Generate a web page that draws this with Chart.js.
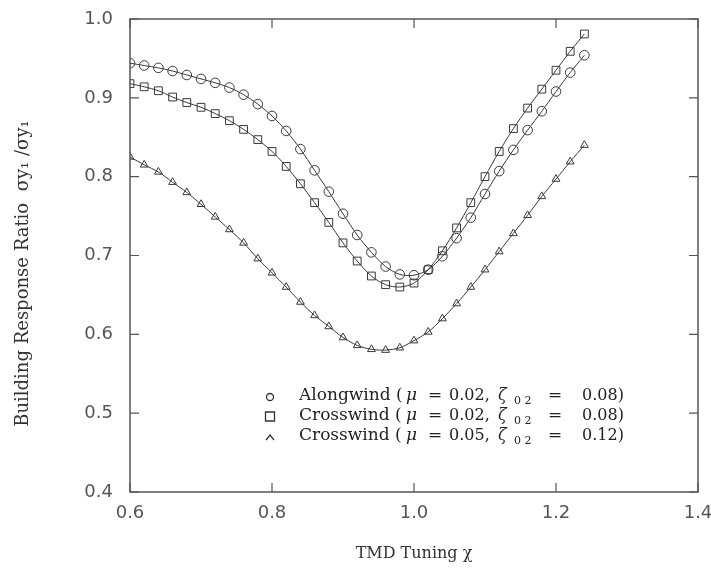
<!DOCTYPE html>
<html>
<head>
<meta charset="utf-8">
<script src="https://cdn.jsdelivr.net/npm/chart.js@4/dist/chart.umd.min.js"></script>
<style>
  html, body { margin: 0; padding: 0; background: #fff; }
  #wrap { width: 711px; height: 577px; }
</style>
</head>
<body>
<div id="wrap"><canvas id="tmdChart" width="711" height="577"></canvas></div>
<script>
/* =======================
   DATA
======================= */
const tuning = [0.60, 0.62, 0.64, 0.66, 0.68, 0.70, 0.72, 0.74, 0.76, 0.78, 0.80,
                0.82, 0.84, 0.86, 0.88, 0.90, 0.92, 0.94, 0.96, 0.98, 1.00, 1.02,
                1.04, 1.06, 1.08, 1.10, 1.12, 1.14, 1.16, 1.18, 1.20, 1.22, 1.24];

const alongwind002 = [0.944, 0.941, 0.938, 0.934, 0.929, 0.924, 0.919, 0.913, 0.904, 0.892, 0.877,
                      0.858, 0.835, 0.808, 0.781, 0.753, 0.726, 0.704, 0.686, 0.676, 0.675, 0.682,
                      0.699, 0.722, 0.748, 0.778, 0.807, 0.834, 0.859, 0.883, 0.908, 0.932, 0.954];

const crosswind002 = [0.918, 0.914, 0.909, 0.901, 0.894, 0.888, 0.880, 0.871, 0.860, 0.847, 0.832,
                      0.813, 0.791, 0.767, 0.742, 0.716, 0.693, 0.674, 0.663, 0.660, 0.665, 0.682,
                      0.706, 0.735, 0.767, 0.800, 0.832, 0.861, 0.887, 0.911, 0.935, 0.959, 0.981];

const crosswind005 = [0.825, 0.815, 0.806, 0.793, 0.780, 0.765, 0.749, 0.733, 0.716, 0.696, 0.678,
                      0.660, 0.641, 0.624, 0.610, 0.596, 0.586, 0.581, 0.580, 0.583, 0.592, 0.603,
                      0.620, 0.639, 0.660, 0.682, 0.705, 0.728, 0.751, 0.775, 0.797, 0.819, 0.840];

const xTicks = [0.6, 0.8, 1.0, 1.2, 1.4];
const yTicks = [0.4, 0.5, 0.6, 0.7, 0.8, 0.9, 1.0];

const seriesNames = ["Alongwind", "Crosswind", "Crosswind"];
const seriesMu = ["0.02,", "0.02,", "0.05,"];
const seriesZeta = ["0.08)", "0.08)", "0.12)"];

const INK = "#3a3a3a";
const SERIF = "'DejaVu Serif', 'Liberation Serif', serif";
const SANS = "'DejaVu Sans', sans-serif";

function toPoints(ys) {
    return tuning.map((x, i) => ({ x: x, y: ys[i] }));
}

/* =======================
   FRAME, INNER TICKS, LEGEND
======================= */
const framePlugin = {
    id: "frame",
    afterDraw(chart) {
        const ctx = chart.ctx;
        const a = chart.chartArea;
        const xs = chart.scales.x;
        const ys = chart.scales.y;
        const tl = 9;

        ctx.save();
        ctx.strokeStyle = "#555";
        ctx.lineWidth = 1.5;
        ctx.strokeRect(a.left, a.top, a.right - a.left, a.bottom - a.top);

        ctx.lineWidth = 1.2;
        ctx.beginPath();
        xTicks.forEach(v => {
            const px = xs.getPixelForValue(v);
            ctx.moveTo(px, a.bottom); ctx.lineTo(px, a.bottom - tl);
            ctx.moveTo(px, a.top); ctx.lineTo(px, a.top + tl);
        });
        yTicks.forEach(v => {
            const py = ys.getPixelForValue(v);
            ctx.moveTo(a.left, py); ctx.lineTo(a.left + tl, py);
            ctx.moveTo(a.right, py); ctx.lineTo(a.right - tl, py);
        });
        ctx.stroke();

        /* legend, pieces placed at fixed offsets like the typeset original */
        const markX = a.left + 140;
        const textX = a.left + 169;
        const rows = [a.top + 377, a.top + 397, a.top + 417];
        const styles = ["circle", "rect", "triangle"];

        ctx.fillStyle = "#222";
        ctx.strokeStyle = "#333";
        ctx.lineWidth = 1.3;
        ctx.textBaseline = "middle";
        ctx.textAlign = "left";

        rows.forEach((y, i) => {
            ctx.beginPath();
            if (styles[i] === "circle") {
                ctx.arc(markX, y + 1, 3.5, 0, Math.PI * 2);
            } else if (styles[i] === "rect") {
                ctx.rect(markX - 4.5, y - 4, 9, 9);
            } else {
                ctx.moveTo(markX - 4, y + 4);
                ctx.lineTo(markX, y - 1);
                ctx.lineTo(markX + 4, y + 4);
            }
            ctx.stroke();

            const put = (txt, dx, font, dy) => {
                ctx.font = font;
                ctx.fillText(txt, textX + dx, y + (dy || 0));
            };
            const f = "17px " + SERIF;
            const n = "16px " + SERIF;
            put(seriesNames[i] + " (", 0, f);
            put("\u03bc", 107, "italic 17px " + SERIF);
            put("=", 129, f);
            put(seriesMu[i], 150, n);
            put("\u03b6", 199, "italic 16px " + SERIF);
            put("0 2", 215, "11px " + SERIF, 5);
            put("=", 249, f);
            put(seriesZeta[i], 283, n);
        });
        ctx.restore();
    }
};

/* =======================
   CHART
======================= */
const lineStyle = {
    borderColor: INK,
    borderWidth: 1,
    pointBorderColor: INK,
    pointBackgroundColor: "rgba(255,255,255,0)",
    pointBorderWidth: 1,
    tension: 0.3,
    showLine: true
};

new Chart(document.getElementById("tmdChart"), {
    type: "scatter",
    data: {
        datasets: [
            Object.assign({ label: "Alongwind (\u03bc = 0.02, \u03b6\u2080\u2082 = 0.08)", data: toPoints(alongwind002), pointStyle: "circle", pointRadius: 4.8 }, lineStyle),
            Object.assign({ label: "Crosswind (\u03bc = 0.02, \u03b6\u2080\u2082 = 0.08)", data: toPoints(crosswind002), pointStyle: "rect", pointRadius: 5.5 }, lineStyle),
            Object.assign({ label: "Crosswind (\u03bc = 0.05, \u03b6\u2080\u2082 = 0.12)", data: toPoints(crosswind005), pointStyle: "triangle", pointRadius: 4.5 }, lineStyle)
        ]
    },
    options: {
        responsive: false,
        animation: false,
        layout: { padding: { top: 19, right: 13, left: 0, bottom: 0 } },
        plugins: {
            legend: { display: false },
            tooltip: { enabled: false }
        },
        scales: {
            x: {
                type: "linear",
                min: 0.6,
                max: 1.4,
                afterBuildTicks: s => { s.ticks = xTicks.map(v => ({ value: v })); },
                afterFit: s => { s.height = 85; s.paddingLeft = 0; s.paddingRight = 0; },
                grid: { display: false, drawTicks: false },
                border: { display: false },
                ticks: {
                    padding: 11,
                    color: "#555",
                    font: { family: SANS, size: 18 },
                    callback: v => v.toFixed(1)
                },
                title: {
                    display: true,
                    text: "TMD Tuning \u03c7",
                    color: "#333",
                    font: { family: SERIF, size: 16 },
                    padding: { top: 0, bottom: 14 }
                }
            },
            y: {
                type: "linear",
                min: 0.4,
                max: 1.0,
                afterBuildTicks: s => { s.ticks = yTicks.map(v => ({ value: v })); },
                afterFit: s => { s.width = 130; s.paddingTop = 0; s.paddingBottom = 0; },
                grid: { display: false, drawTicks: false },
                border: { display: false },
                ticks: {
                    padding: 17,
                    color: "#555",
                    font: { family: SANS, size: 18 },
                    callback: v => v.toFixed(1)
                },
                title: {
                    display: true,
                    text: "Building Response Ratio  \u03c3y\u2081 /\u03c3y\u2081\u2002\u2002\u2002\u2002",
                    color: "#333",
                    font: { family: SERIF, size: 18 },
                    padding: { top: 13, bottom: 0 }
                }
            }
        }
    },
    plugins: [framePlugin]
});
</script>
</body>
</html>
